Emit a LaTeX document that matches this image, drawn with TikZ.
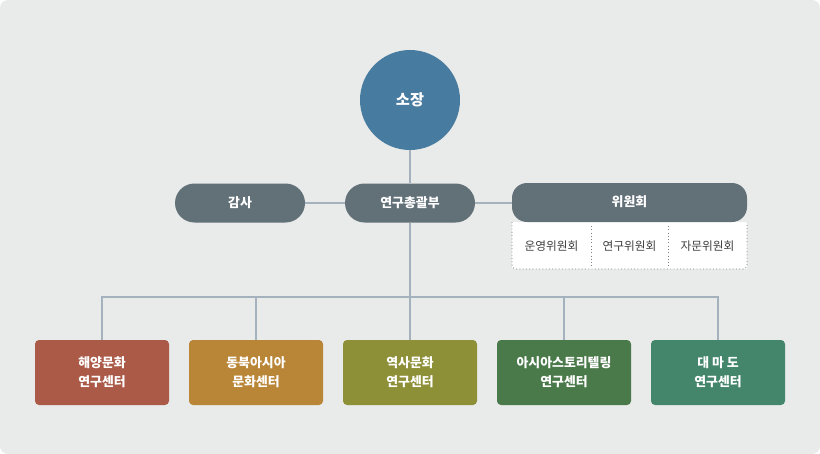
\documentclass[tikz,border=0pt]{standalone}
\usepackage{fontspec}
\setmainfont{Noto Sans CJK KR}
\usetikzlibrary{positioning}
\definecolor{bgc}{HTML}{E9EBEA}
\definecolor{topc}{HTML}{487BA0}
\definecolor{grayc}{HTML}{627078}
\definecolor{linec}{HTML}{A3B2BC}
\definecolor{c1}{HTML}{AB5A48}
\definecolor{c2}{HTML}{B98537}
\definecolor{c3}{HTML}{8E9038}
\definecolor{c4}{HTML}{4B7A4A}
\definecolor{c5}{HTML}{43866B}
\begin{document}
\begin{tikzpicture}[x=0.03cm,y=-0.03cm,
    pill/.style={rounded corners=19.5*0.03cm,fill=grayc,text=white,font=\bfseries\fontsize{11}{13}\selectfont,
                 minimum width=130*0.03cm,minimum height=39*0.03cm,inner sep=0pt},
    center/.style={rounded corners=4*0.03cm,text=white,font=\bfseries\fontsize{11}{16}\selectfont,align=center,
                 minimum width=134*0.03cm,minimum height=65*0.03cm,inner sep=0pt},
    sub/.style={font=\fontsize{10}{12}\selectfont,text=black!75,inner sep=0pt},
    conn/.style={draw=linec,line width=1.2pt}]
	\useasboundingbox (0,0) rectangle (820,454);
	\fill[bgc,rounded corners=8*0.03cm] (0,0) rectangle (820,454);

	\node[circle,fill=topc,minimum size=100*0.03cm,text=white,font=\bfseries\fontsize{13}{15}\selectfont] (head) at (410,100) {소장};
	\node[pill] (main) at (410,203) {연구총괄부};
	\node[pill] (audit) at (240,203) {감사};

	% committee box
	\fill[white] (512,222) rectangle (747,269);
	\draw[dotted,gray,thick,rounded corners=4*0.03cm] (512,222) -- (512,269) -- (747,269) -- (747,222);
	\draw[dotted,gray,thick] (591,226) -- (591,266) (668,226) -- (668,266);
	\fill[grayc,rounded corners=15*0.03cm] (512,222) -- (512,183) -- (747,183) -- (747,222) -- cycle;
	\node[text=white,font=\bfseries\fontsize{11}{13}\selectfont] (comm) at (629.5,202) {위원회};
	\coordinate (commw) at (512,203);
	\node[sub] (s1) at (551.5,246) {운영위원회};
	\node[sub] (s2) at (629.5,246) {연구위원회};
	\node[sub] (s3) at (707.5,246) {자문위원회};

	\node[center,fill=c1] (r1) at (102,372.5) {해양문화\\연구센터};
	\node[center,fill=c2] (r2) at (256,372.5) {동북아시아\\문화센터};
	\node[center,fill=c3] (r3) at (410,372.5) {역사문화\\연구센터};
	\node[center,fill=c4] (r4) at (564,372.5) {아시아스토리텔링\\연구센터};
	\node[center,fill=c5] (r5) at (718,372.5) {대 마 도\\연구센터};

	\coordinate (bus) at (410,297);
	\draw[conn] (head) -- (main);
	\draw[conn] (audit) -- (main);
	\draw[conn] (main) -- (commw);
	\draw[conn] (main) -- (bus);
	\foreach \r in {r1,r2,r3,r4,r5}
		\draw[conn] (bus) -| (\r.north);
\end{tikzpicture}
\end{document}
